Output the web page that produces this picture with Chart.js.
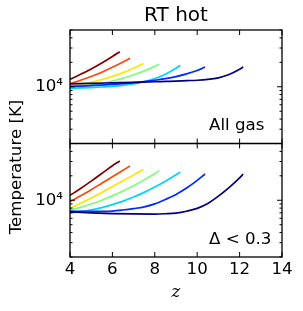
<!DOCTYPE html>
<html>
<head>
<meta charset="utf-8">
<script src="https://cdn.jsdelivr.net/npm/chart.js@4.4.0/dist/chart.umd.min.js"></script>
<style>
  html, body { margin: 0; padding: 0; background: #fff; }
  #wrap { position: relative; width: 303px; height: 311px; }
</style>
</head>
<body>
<div id="wrap"><canvas id="c" width="303" height="311"></canvas></div>
<script>
// ---------------- data ----------------
const title = 'RT hot';
const yLabel = 'Temperature [K]';
const xLabel = 'z';
const panelLabels = ['All gas', 'Δ < 0.3'];
const seriesColors = ['#000080', '#002aff', '#00d4ff', '#7bff7b', '#ffe600', '#ff4800', '#800000'];

const xTicks = [4, 6, 8, 10, 12, 14];
const yTicks = [2000, 3000, 4000, 5000, 6000, 7000, 8000, 9000, 10000, 20000, 30000, 40000, 50000];

// redshift grids per series (navy -> dark red)
const zNavy   = [4, 5, 6, 7, 8, 8.5, 9, 9.5, 10, 10.5, 11, 11.5, 12, 12.17];
const zBlue   = [4, 5, 6, 6.5, 7, 7.5, 8, 8.5, 9, 9.5, 10, 10.37];
const zCyan   = [4, 4.5, 5, 5.5, 6, 6.5, 7, 7.5, 8, 8.5, 9, 9.2];
const zGreen  = [4, 4.5, 5, 5.5, 6, 6.5, 7, 7.5, 8, 8.21];
const zYellow = [4, 4.5, 5, 5.5, 6, 6.5, 7, 7.46];
const zOrange = [4, 4.5, 5, 5.5, 6, 6.5, 6.83];
const zRed    = [4, 4.5, 5, 5.5, 6, 6.35];

// Top panel: all gas, temperature [K]
const tNavyAll   = [10840, 11020, 11170, 11320, 11530, 11640, 11750, 11890, 12020, 12300, 12880, 14130, 16410, 17500];
const tBlueAll   = [10120, 10350, 10720, 10940, 11220, 11590, 12020, 12590, 13340, 14390, 15850, 17500];
const tCyanAll   = [9594, 9661, 9772, 9931, 10120, 10420, 10840, 11530, 12590, 14290, 16900, 18370];
const tGreenAll  = [9954, 10140, 10500, 11040, 11780, 12760, 14060, 15700, 17820, 18880];
const tYellowAll = [10230, 10690, 11320, 12220, 13400, 14930, 16940, 19280];
const tOrangeAll = [10940, 12020, 13370, 15100, 17340, 20140, 22390];
const tRedAll    = [12360, 14220, 16600, 19630, 23600, 27040];

// Bottom panel: Delta < 0.3, temperature [K]
const tNavyLow   = [7211, 6998, 6855, 6776, 6761, 6823, 6950, 7328, 7943, 9120, 11220, 14290, 18840, 21040];
const tBlueLow   = [7328, 7278, 7362, 7586, 7889, 8279, 9016, 10230, 11800, 14130, 17580, 21040];
const tCyanLow   = [7015, 7244, 7603, 8128, 8831, 9750, 10940, 12500, 14520, 17140, 20610, 22280];
const tGreenLow  = [7568, 8185, 8995, 10020, 11320, 13000, 15100, 17820, 21330, 23120];
const tYellowLow = [7925, 9162, 10670, 12500, 14720, 17380, 20510, 23990];
const tOrangeLow = [9570, 11350, 13490, 16220, 19500, 23440, 26420];
const tRedLow    = [11480, 13960, 17180, 21380, 26610, 30480];

// ---------------- chart ----------------
const zGrids = [zNavy, zBlue, zCyan, zGreen, zYellow, zOrange, zRed];
const topT = [tNavyAll, tBlueAll, tCyanAll, tGreenAll, tYellowAll, tOrangeAll, tRedAll];
const botT = [tNavyLow, tBlueLow, tCyanLow, tGreenLow, tYellowLow, tOrangeLow, tRedLow];

const FONT = 'DejaVu Sans';
const FS = 16.67;

function mkSet(zs, ts, color, axis) {
  return {
    data: zs.map((z, i) => ({ x: z, y: ts[i] })),
    borderColor: color,
    backgroundColor: color,
    borderWidth: 1.7,
    pointRadius: 0,
    fill: false,
    cubicInterpolationMode: 'monotone',
    yAxisID: axis
  };
}
const datasets = [];
zGrids.forEach((zs, i) => datasets.push(mkSet(zs, topT[i], seriesColors[i], 'yTop')));
zGrids.forEach((zs, i) => datasets.push(mkSet(zs, botT[i], seriesColors[i], 'yBot')));

function yScale() {
  return {
    type: 'logarithmic',
    position: 'left',
    stack: 'temp',
    stackWeight: 1,
    min: 2000,
    max: 50000,
    afterBuildTicks: (s) => { s.ticks = yTicks.map(v => ({ value: v, major: v === 10000 })); },
    afterFit: (s) => { s.width = 70; s.paddingTop = 0; s.paddingBottom = 0; },
    grid: { display: false, drawTicks: false },
    border: { display: false },
    ticks: {
      autoSkip: false,
      padding: 7,
      color: '#000',
      font: { family: FONT, size: FS },
      callback: (v) => (v === 10000 ? '10⁴' : '')
    }
  };
}

const frameTicks = {
  id: 'frameTicks',
  afterDatasetsDraw(chart) {
    const ctx = chart.ctx;
    const xs = chart.scales.x;
    const L = chart.chartArea.left, R = chart.chartArea.right;
    ctx.save();
    ctx.strokeStyle = '#000';
    const line = (x1, y1, x2, y2) => { ctx.beginPath(); ctx.moveTo(x1, y1); ctx.lineTo(x2, y2); ctx.stroke(); };
    ['yTop', 'yBot'].forEach((id, k) => {
      const ys = chart.scales[id];
      const T = ys.top, B = ys.bottom;
      ctx.lineWidth = 1;
      xTicks.forEach(v => {
        const px = xs.getPixelForValue(v);
        line(px, B, px, B - 5);
        line(px, T, px, T + 5);
      });
      yTicks.forEach(v => {
        const py = ys.getPixelForValue(v);
        const len = v === 10000 ? 5 : 2.5;
        line(L, py, L + len, py);
        line(R, py, R - len, py);
      });
      ctx.lineWidth = 1.3;
      ctx.strokeRect(L, T, R - L, B - T);
      // panel label
      ctx.fillStyle = '#000';
      ctx.font = FS + 'px "' + FONT + '"';
      ctx.textAlign = 'left';
      ctx.textBaseline = 'alphabetic';
      ctx.fillText(panelLabels[k], L + 139, B - 13.5);
    });
    // y-axis label spanning both panels
    ctx.save();
    ctx.translate(16.5, 167);
    ctx.rotate(-Math.PI / 2);
    ctx.textAlign = 'center';
    ctx.textBaseline = 'middle';
    ctx.font = FS + 'px "' + FONT + '"';
    ctx.fillText(yLabel, 0, 0);
    ctx.restore();
    ctx.restore();
  }
};

new Chart(document.getElementById('c'), {
  type: 'line',
  data: { datasets },
  options: {
    responsive: false,
    animation: false,
    devicePixelRatio: 1,
    layout: { padding: { left: 0, right: 21, top: 0, bottom: 0 } },
    plugins: {
      legend: { display: false },
      tooltip: { enabled: false },
      title: {
        display: true,
        fullSize: false,
        text: title,
        color: '#000',
        font: { family: FONT, size: 20, weight: 'normal' },
        padding: { top: 4, bottom: 2 }
      }
    },
    scales: {
      x: {
        type: 'linear',
        position: 'bottom',
        min: 4,
        max: 14,
        afterBuildTicks: (s) => { s.ticks = xTicks.map(v => ({ value: v })); },
        afterFit: (s) => { s.height = 54; s.paddingLeft = 0; s.paddingRight = 0; },
        grid: { display: false, drawTicks: false },
        border: { display: false },
        ticks: {
          autoSkip: false,
          maxRotation: 0,
          padding: 3,
          color: '#000',
          font: { family: FONT, size: FS }
        },
        title: {
          display: true,
          text: xLabel,
          color: '#000',
          font: { family: 'DejaVu Serif', size: FS, style: 'italic' },
          padding: { top: 8, bottom: 8 }
        }
      },
      yBot: yScale(),
      yTop: yScale()
    }
  },
  plugins: [frameTicks]
});
</script>
</body>
</html>
